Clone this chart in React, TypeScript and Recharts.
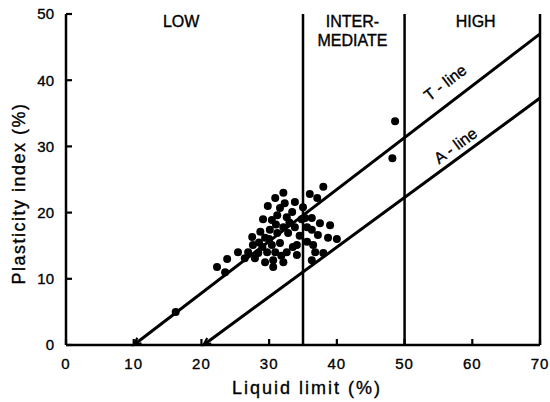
import React from 'react';
import {
  ScatterChart,
  Scatter,
  XAxis,
  YAxis,
  ReferenceLine,
  ReferenceDot,
} from 'recharts';

// liquid limit / plasticity index pairs for each sample
const liquidLimit = [
  16.2, 22.3, 23.5, 23.8, 25.4, 26.4, 26.9, 27.5, 27.6, 27.9, 28.4, 28.7, 29.0, 29.1, 29.4, 29.4,
  29.7, 29.8, 30.4, 30.4, 30.1, 30.6, 30.6, 30.9, 30.9, 31.2, 31.2, 31.6, 31.6, 32.1, 32.1, 32.1,
  32.3, 32.6, 32.6, 32.8, 33.4, 33.8, 33.8, 34.1, 34.1, 35.0, 35.3, 35.6, 35.6, 36.0, 36.3, 36.3,
  36.3, 36.5, 36.8, 37.1, 37.2, 37.5, 38.0, 38.0, 38.7, 39.0, 40.0, 48.2, 48.6,
  31.0, 33.0, 34.5, 33.5, 31.8, 30.0, 28.5, 34.8,
];
const plasticityIndex = [
  5.0, 11.8, 11.0, 13.0, 14.0, 13.1, 14.0, 16.3, 15.1, 13.1, 13.9, 17.1, 14.8, 19.0, 16.2, 12.5,
  14.0, 21.0, 18.9, 15.1, 17.4, 12.8, 11.8, 22.2, 14.0, 19.6, 16.9, 20.7, 15.4, 23.0, 17.8, 12.5,
  21.4, 19.3, 14.0, 16.9, 20.1, 21.6, 17.8, 15.1, 13.6, 20.8, 19.2, 17.8, 15.6, 22.8, 19.2, 17.4,
  12.8, 15.1, 14.0, 22.2, 16.6, 18.4, 23.9, 13.9, 16.2, 18.1, 16.0, 28.2, 33.8,
  18.2, 18.5, 16.5, 14.8, 13.5, 16.0, 15.5, 19.0,
];

const samples = liquidLimit.map((ll, i) => ({ ll, pi: plasticityIndex[i] }));

// classification lines
const tLineLL = [10, 70];
const tLinePI = [0, 47];
const aLineLL = [20.3, 70];
const aLinePI = [0, 37.3];

// zone boundaries and headings
const zoneBounds = [35, 50, 70];
const zoneLabels = [
  { ll: 17, pi: 48.9, lines: ['LOW'] },
  { ll: 42.3, pi: 48.9, lines: ['INTER-', 'MEDIATE'] },
  { ll: 60.5, pi: 48.9, lines: ['HIGH'] },
];

const xTicks = [0, 10, 20, 30, 40, 50, 60, 70];
const yTicks = [0, 10, 20, 30, 40, 50];

const FONT = 'Arial, "Liberation Sans", Helvetica, sans-serif';
const TICK_MARGIN = 12;
const INK = { fill: '#000', stroke: '#000', strokeWidth: 0.35 };

const YTick = (props: any) => {
  const { x, y, payload } = props;
  const ax = x + TICK_MARGIN;
  return (
    <g>
      <line x1={ax} x2={ax + 6} y1={y} y2={y} stroke="#000" strokeWidth={2.2} />
      <text x={x} y={y} dy="0.36em" textAnchor="end" fontFamily={FONT} fontSize={15} {...INK}>
        {payload.value}
      </text>
    </g>
  );
};

const XTick = (props: any) => {
  const { x, y, payload } = props;
  const ay = y - 10;
  return (
    <g>
      <line x1={x} x2={x} y1={ay} y2={ay - 6} stroke="#000" strokeWidth={2.2} />
      <text x={x} y={y} dy="0.95em" textAnchor="middle" fontFamily={FONT} fontSize={15} letterSpacing={1} {...INK}>
        {payload.value}
      </text>
    </g>
  );
};

const zoneText = (lines: string[]) => (props: any) => {
  const { viewBox } = props;
  return (
    <text x={viewBox.x} y={viewBox.y} textAnchor="middle" fontFamily={FONT} fontSize={16} {...INK}>
      {lines.map((t, i) => (
        <tspan key={t} x={viewBox.x} dy={i === 0 ? '0.35em' : 19}>
          {t}
        </tspan>
      ))}
    </text>
  );
};

const lineText = (text: string, angle: number) => (props: any) => {
  const { viewBox } = props;
  return (
    <text
      x={viewBox.x}
      y={viewBox.y}
      dy="0.35em"
      textAnchor="middle"
      fontFamily={FONT}
      fontSize={16}
      {...INK}
      transform={`rotate(${angle} ${viewBox.x} ${viewBox.y})`}
    >
      {text}
    </text>
  );
};

const xTitle = (props: any) => {
  const { viewBox } = props;
  return (
    <text x={viewBox.x + viewBox.width / 2 + 4} y={viewBox.y + 49} textAnchor="middle" fontFamily={FONT} fontSize={18} letterSpacing={2} {...INK}>
      Liquid limit (%)
    </text>
  );
};

const yTitle = (props: any) => {
  const { viewBox } = props;
  const cx = viewBox.x + viewBox.width - 41;
  const cy = viewBox.y + viewBox.height / 2 + 14;
  return (
    <text x={cx} y={cy} textAnchor="middle" fontFamily={FONT} fontSize={18} letterSpacing={1.5} {...INK} transform={`rotate(-90 ${cx} ${cy})`}>
      Plasticity index (%)
    </text>
  );
};

// sloping line that ends in a small arrowhead where it meets the x axis
const ArrowLine = (props: any) => {
  const { x1, y1, x2, y2 } = props;
  const a = Math.atan2(y1 - y2, x1 - x2);
  const len = 8;
  const spread = 0.45;
  const p1 = [x1 - len * Math.cos(a - spread), y1 - len * Math.sin(a - spread)];
  const p2 = [x1 - len * Math.cos(a + spread), y1 - len * Math.sin(a + spread)];
  return (
    <g>
      <line x1={x1} y1={y1} x2={x2} y2={y2} stroke="#000" strokeWidth={3} />
      <path d={`M${p1[0]},${p1[1]} L${x1},${y1} L${p2[0]},${p2[1]}`} fill="none" stroke="#000" strokeWidth={2.2} />
    </g>
  );
};

const Dot = (props: any) => <circle cx={props.cx} cy={props.cy} r={4} fill="#000" />;

// slope of a line in pixel space, for rotating its caption
const angleOf = (llA: number[], piA: number[]) => {
  const dx = (llA[1] - llA[0]) * (474 / 70);
  const dy = (piA[1] - piA[0]) * (331 / 50);
  return (-Math.atan2(dy, dx) * 180) / Math.PI;
};

const tAngle = angleOf(tLineLL, tLinePI);
const aAngle = angleOf(aLineLL, aLinePI);
const onLine = (llA: number[], piA: number[], ll: number) =>
  piA[0] + ((ll - llA[0]) * (piA[1] - piA[0])) / (llA[1] - llA[0]);

export default function App() {
  return (
    <div style={{ position: 'absolute', left: 0, top: 0, width: 550, height: 402, background: '#fff' }}>
      <ScatterChart width={550} height={402} margin={{ top: 14, right: 10, bottom: 7, left: 6 }}>
        <XAxis
          type="number"
          dataKey="ll"
          domain={[0, 70]}
          ticks={xTicks}
          interval={0}
          height={50}
          tickSize={0}
          tickMargin={10}
          tick={<XTick />}
          axisLine={{ stroke: '#000', strokeWidth: 2.5 }}
          label={{ content: xTitle }}
        />
        <YAxis
          type="number"
          dataKey="pi"
          domain={[0, 50]}
          ticks={yTicks}
          interval={0}
          width={60}
          tickSize={0}
          tickMargin={TICK_MARGIN}
          tick={<YTick />}
          axisLine={{ stroke: '#000', strokeWidth: 2.5 }}
          label={{ content: yTitle }}
        />
        {zoneBounds.map((b) => (
          <ReferenceLine key={b} x={b} stroke="#000" strokeWidth={2.5} />
        ))}
        <ReferenceLine
          segment={[
            { x: tLineLL[0], y: tLinePI[0] },
            { x: tLineLL[1], y: tLinePI[1] },
          ]}
          shape={ArrowLine}
        />
        <ReferenceLine
          segment={[
            { x: aLineLL[0], y: aLinePI[0] },
            { x: aLineLL[1], y: aLinePI[1] },
          ]}
          shape={ArrowLine}
        />
        {zoneLabels.map((z) => (
          <ReferenceDot key={z.lines[0]} x={z.ll} y={z.pi} r={0} stroke="none" label={{ content: zoneText(z.lines) }} />
        ))}
        <ReferenceDot
          x={56}
          y={onLine(tLineLL, tLinePI, 56) + 3.6}
          r={0}
          stroke="none"
          label={{ content: lineText('T - line', tAngle) }}
        />
        <ReferenceDot
          x={57.5}
          y={onLine(aLineLL, aLinePI, 57.5) + 2.2}
          r={0}
          stroke="none"
          label={{ content: lineText('A - line', aAngle) }}
        />
        <Scatter data={samples} shape={<Dot />} isAnimationActive={false} />
      </ScatterChart>
    </div>
  );
}
